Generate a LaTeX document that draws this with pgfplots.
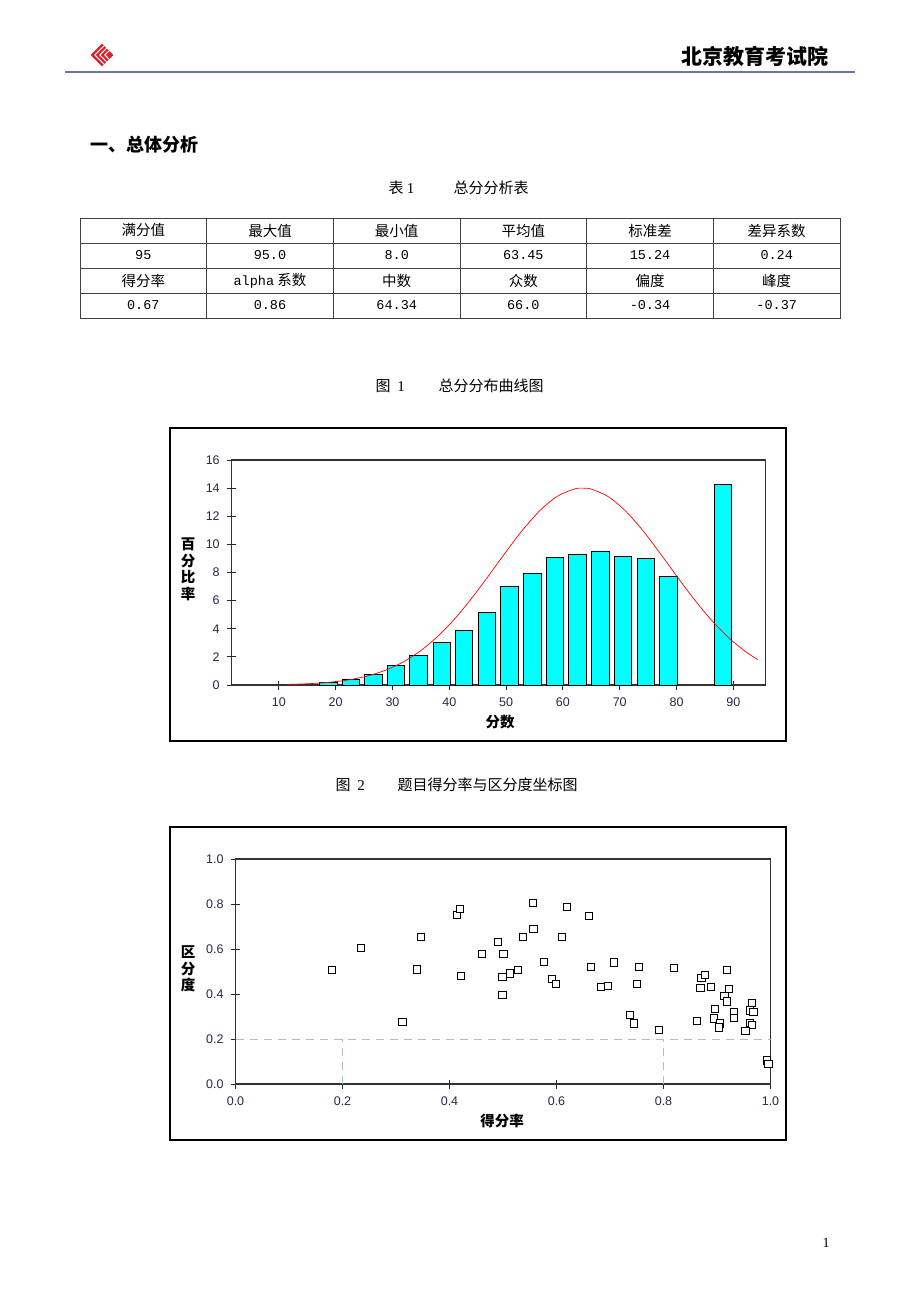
\documentclass[border=0pt]{standalone}
\usepackage{pgfplots}
\pgfplotsset{compat=1.18}
\usepackage{fontspec}
\setmainfont{Liberation Sans}
\newfontfamily\cjk{Noto Sans CJK SC}
\newfontfamily\mono{Liberation Mono}
\newfontfamily\serif{Liberation Serif}
\definecolor{tickcol}{RGB}{40,40,70}
\definecolor{barcyan}{RGB}{0,255,255}
\definecolor{dashblue}{RGB}{170,190,220}
\definecolor{hdrline}{RGB}{115,115,165}
\definecolor{logored}{RGB}{225,30,40}

\pgfplotstableread{
x y
18.7 0.19
22.7 0.42
26.7 0.75
30.6 1.42
34.6 2.12
38.7 3.04
42.6 3.87
46.6 5.19
50.6 7.01
54.6 7.91
58.6 9.06
62.6 9.30
66.6 9.53
70.6 9.16
74.6 8.99
78.6 7.74
88.2 14.25
}\bars

\pgfplotstableread{
x y
11.4 0.041
14 0.072
17 0.135
20 0.240
23 0.413
26 0.684
29 1.088
32 1.665
35 2.451
38 3.472
41 4.731
44 6.200
47 7.817
50 9.483
53 11.067
56 12.423
59 13.416
62 13.937
63.45 14.0
65 13.928
68 13.390
71 12.383
74 11.018
77 9.429
80 7.763
83 6.149
86 4.685
89 3.434
92 2.421
94.3 1.804
}\curve

\pgfplotstableread{
x y
0.181 0.506
0.234 0.604
0.312 0.277
0.339 0.509
0.347 0.655
0.414 0.753
0.419 0.778
0.421 0.481
0.461 0.578
0.490 0.632
0.501 0.578
0.499 0.475
0.499 0.396
0.513 0.491
0.528 0.506
0.538 0.655
0.556 0.803
0.557 0.688
0.620 0.786
0.610 0.654
0.661 0.748
0.576 0.541
0.592 0.466
0.599 0.445
0.664 0.519
0.707 0.540
0.683 0.430
0.696 0.436
0.754 0.521
0.751 0.445
0.737 0.308
0.745 0.269
0.791 0.240
0.820 0.516
0.863 0.280
0.871 0.470
0.878 0.485
0.869 0.427
0.888 0.430
0.919 0.507
0.922 0.424
0.914 0.393
0.919 0.367
0.896 0.333
0.895 0.291
0.906 0.269
0.904 0.251
0.931 0.318
0.931 0.294
0.965 0.361
0.961 0.327
0.968 0.322
0.961 0.271
0.965 0.263
0.953 0.235
0.993 0.105
0.996 0.089
}\scatterdata

\pgfplotsset{
  pagestyle/.style={
    scale only axis,
    tick align=center,
    major tick length=9pt,
    tick style={black!85, line width=1pt},
    axis line style={black!80, line width=1.1pt},
    ticklabel style={font=\fontsize{12.5}{13}\selectfont, text=tickcol},
    xticklabel style={yshift=-5pt},
    yticklabel style={xshift=-4pt},
    /pgf/number format/assume math mode=true,
    xtick pos=bottom, ytick pos=left,
  }
}

\begin{document}
\begin{tikzpicture}
\fill[white] (0pt,0pt) rectangle (920pt,-1302pt);
\path[use as bounding box] (0pt,0pt) rectangle (920pt,-1302pt);

\begin{scope}[x=1pt,y=-1pt]
  % header
  \begin{scope}[shift={(102,55)}, rotate=45]
    \fill[logored] (-8,-8) rectangle (8,8);
    \draw[white, line width=1.1] (-5,8) -- (-5,-5) -- (8,-5);
    \draw[white, line width=1.1] (-1.5,8) -- (-1.5,-1.5) -- (8,-1.5);
    \draw[white, line width=1.1] (2,8) -- (2,2) -- (8,2);
  \end{scope}
  \node[font={\cjk\bfseries\fontsize{21}{21}\selectfont}, anchor=east] at (832,56) {北京教育考试院};
  \draw[hdrline, line width=2pt] (65,72) -- (855,72);

  % heading
  \node[font={\cjk\bfseries\fontsize{18}{18}\selectfont}, anchor=west] at (87,145) {一、总体分析};
  \node[font={\cjk\fontsize{15}{15}\selectfont}, anchor=west] at (385,188) {表\ {\serif 1}};
  \node[font={\cjk\fontsize{15}{15}\selectfont}, anchor=west] at (450,188) {总分分析表};

  % table
  \draw[black!75, line width=0.9pt] (80,218) rectangle (840,318);
  \foreach \yy in {243,268,293} \draw[black!75, line width=0.9pt] (80,\yy) -- (840,\yy);
  \foreach \xx in {206.7,333.3,460,586.7,713.3} \draw[black!75, line width=0.9pt] (\xx,218) -- (\xx,318);
  \begin{scope}[every node/.style={font={\cjk\fontsize{14.5}{15}\selectfont}}]
    \node at (143.3,230.5) {满分值};
    \node at (270,230.5) {最大值};
    \node at (396.7,230.5) {最小值};
    \node at (523.3,230.5) {平均值};
    \node at (650,230.5) {标准差};
    \node at (776.7,230.5) {差异系数};
    \node at (143.3,280.5) {得分率};
    \node at (270,280.5) {{\mono\fontsize{13.5}{14}\selectfont alpha} 系数};
    \node at (396.7,280.5) {中数};
    \node at (523.3,280.5) {众数};
    \node at (650,280.5) {偏度};
    \node at (776.7,280.5) {峰度};
  \end{scope}
  \begin{scope}[every node/.style={font={\mono\fontsize{13.5}{14}\selectfont}}]
    \node at (143.3,255.5) {95};
    \node at (270,255.5) {95.0};
    \node at (396.7,255.5) {8.0};
    \node at (523.3,255.5) {63.45};
    \node at (650,255.5) {15.24};
    \node at (776.7,255.5) {0.24};
    \node at (143.3,305.5) {0.67};
    \node at (270,305.5) {0.86};
    \node at (396.7,305.5) {64.34};
    \node at (523.3,305.5) {66.0};
    \node at (650,305.5) {-0.34};
    \node at (776.7,305.5) {-0.37};
  \end{scope}

  % figure captions
  \node[font={\cjk\fontsize{15}{15}\selectfont}, anchor=west] at (372,386) {图\ \ {\serif 1}};
  \node[font={\cjk\fontsize{15}{15}\selectfont}, anchor=west] at (435,386) {总分分布曲线图};
  \node[font={\cjk\fontsize{15}{15}\selectfont}, anchor=west] at (332,785) {图\ \ {\serif 2}};
  \node[font={\cjk\fontsize{15}{15}\selectfont}, anchor=west] at (394,785) {题目得分率与区分度坐标图};

  % frames
  \draw[black, line width=1.2pt] (170,428) rectangle (786,741);
  \draw[black, line width=1.2pt] (170,827) rectangle (786,1140);

  % axis titles
  \node[font={\cjk\bfseries\fontsize{14.5}{16.5}\selectfont}, align=center] at (188,569.5) {百\\分\\比\\率};
  \node[font={\cjk\bfseries\fontsize{14.5}{15}\selectfont}] at (500,722.5) {分数};
  \node[font={\cjk\bfseries\fontsize{14.5}{16.5}\selectfont}, align=center] at (188,969) {区\\分\\度};
  \node[font={\cjk\bfseries\fontsize{14.5}{15}\selectfont}] at (502,1121) {得分率};

  % page number
  \node[font={\serif\fontsize{14}{14}\selectfont}] at (826,1243) {1};
\end{scope}

% Figure 1
\begin{axis}[pagestyle,
  at={(231.7pt,-685pt)}, anchor=south west,
  width=534pt, height=225pt,
  xmin=1.7, xmax=95.7, ymin=0, ymax=16,
  xtick={10,20,...,90}, ytick={0,2,...,16},
]
\addplot[ybar, bar width=3.1, fill=barcyan, draw=black, line width=0.9pt] table[x=x,y=y] {\bars};
\addplot[red, line width=0.7pt, smooth, no marks] table[x=x,y=y] {\curve};
\end{axis}

% Figure 2
\begin{axis}[pagestyle,
  at={(235.5pt,-1084pt)}, anchor=south west,
  width=535pt, height=225pt,
  xmin=0, xmax=1, ymin=0, ymax=1,
  xtick={0,0.2,...,1.01}, ytick={0,0.2,...,1.01},
  xticklabel style={/pgf/number format/.cd, fixed, fixed zerofill, precision=1},
  yticklabel style={/pgf/number format/.cd, fixed, fixed zerofill, precision=1},
]
\addplot[dashblue, line width=0.9pt, dash pattern=on 8pt off 6pt] coordinates {(0,0.2) (1,0.2)};
\addplot[dashblue, line width=0.9pt, dash pattern=on 8pt off 6pt] coordinates {(0.2,0) (0.2,0.2)};
\addplot[dashblue, line width=0.9pt, dash pattern=on 8pt off 6pt] coordinates {(0.8,0) (0.8,0.2)};
\addplot[only marks, mark=square*, mark size=3.6pt, mark options={draw=black, fill=white, line width=0.9pt}] table[x=x,y=y] {\scatterdata};
\end{axis}
\end{tikzpicture}
\end{document}
